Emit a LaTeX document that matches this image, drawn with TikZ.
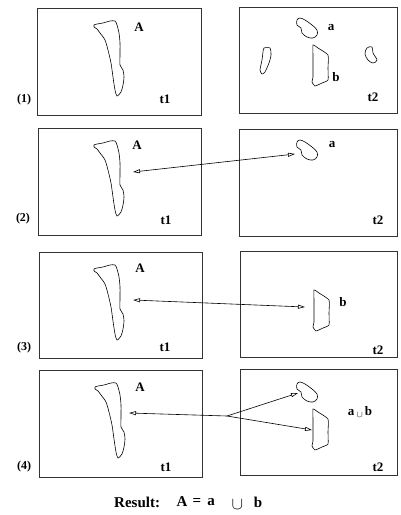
\documentclass[tikz,border=0pt]{standalone}
\usepackage{fontspec}
\setmainfont{Liberation Serif}
\usetikzlibrary{arrows.meta}
\newcommand\shapeAA{plot[smooth cycle, tension=0.45] coordinates{(94,25) (97,24) (103,23) (110,21) (115,21) (117,25) (119,33) (120,43) (120,55) (120,65) (123,70) (124,77) (123,85) (121,92) (117,96) (115,90) (113,77) (111,63) (108,50) (105,40) (100,33) (97,29) (94,27)}}
\newcommand\shapeSa{plot[smooth cycle, tension=0.6] coordinates{(297,20) (300,18) (305,20) (312,25) (317,30) (317,35) (313,38) (307,37) (302,33) (301,28) (297,25)}}
\newcommand\shapeSb{plot[smooth cycle, tension=0.3] coordinates{(313,45) (318,48) (328,55) (328,68) (328,80) (322,83) (315,86) (312,82) (313,77) (313,67) (313,55)}}
\newcommand\shapeSl{plot[smooth cycle, tension=0.4] coordinates{(264,48) (270,48) (271,55) (269,63) (265,72) (262,74) (260,70) (262,60) (263,52)}}
\newcommand\shapeSr{plot[smooth cycle, tension=0.6] coordinates{(367,48) (372,47) (373,53) (377,60) (373,63) (368,60) (365,54)}}
\begin{document}
\begin{tikzpicture}[x=1pt,y=-1pt,
  frame/.style={draw=black!80, line width=0.8pt},
  blob/.style={draw, line width=0.6pt},
  lbl/.style={font=\fontsize{13}{13}\selectfont\bfseries, inner sep=0pt},
  rowlbl/.style={font=\fontsize{12}{12}\selectfont\bfseries, inner sep=0pt},
  res/.style={font=\fontsize{15}{15}\selectfont\bfseries, inner sep=0pt},
  link/.style={line width=0.6pt, {Triangle[open,length=7pt,width=4pt]}-{Triangle[open,length=7pt,width=4pt]}},
  onelink/.style={line width=0.6pt, -{Triangle[open,length=7pt,width=4pt]}}]
\useasboundingbox (0,0) rectangle (400,515);
% row 1
\draw[frame] (37,8) rectangle (201,115);
\draw[frame] (239,7) rectangle (397,113);
\draw[blob] \shapeAA;
\draw[blob] \shapeSa;
\draw[blob] \shapeSb;
\draw[blob] \shapeSl;
\draw[blob] \shapeSr;
\node[lbl] (A1) at (139,27) {A};
\node[lbl] (t11) at (165,99) {t1};
\node[lbl] (a1) at (331,28) {a};
\node[lbl] (b1) at (336,77) {b};
\node[lbl] (t21) at (373,97) {t2};
\node[rowlbl] (r1) at (24,100) {(1)};
% row 2
\draw[frame] (38,128) rectangle (201,235);
\draw[frame] (239,129) rectangle (397,236);
\draw[blob, shift={(0,120)}] \shapeAA;
\draw[blob, shift={(0,122)}] \shapeSa;
\node[lbl] (A2) at (137,145) {A};
\node[lbl] (t12) at (166,220) {t1};
\node[lbl] (a2) at (332,145) {a};
\node[lbl] (t22) at (378,220) {t2};
\node[rowlbl] (r2) at (23,219) {(2)};
\coordinate (p2A) at (133,172);
\coordinate (p2a) at (295,154);
\draw[link] (p2A) -- (p2a);
% row 3
\draw[frame] (39,252) rectangle (202,358);
\draw[frame] (240,251) rectangle (397,357);
\draw[blob, shift={(0,244)}] \shapeAA;
\draw[blob, shift={(1,245)}] \shapeSb;
\node[lbl] (A3) at (140,268) {A};
\node[lbl] (t13) at (165,347) {t1};
\node[lbl] (b3) at (343,302) {b};
\node[lbl] (t23) at (378,350) {t2};
\node[rowlbl] (r3) at (24,348) {(3)};
\coordinate (p3A) at (133,300);
\coordinate (p3b) at (305,307);
\draw[link] (p3A) -- (p3b);
% row 4
\draw[frame] (39,370) rectangle (202,477);
\draw[frame] (240,369) rectangle (397,475);
\draw[blob, shift={(1,362)}] \shapeAA;
\draw[blob, shift={(0,364)}] \shapeSa;
\draw[blob, shift={(0,364)}] \shapeSb;
\node[lbl] (A4) at (140,387) {A};
\node[lbl] (t14) at (166,467) {t1};
\node[lbl] (ab4) at (360,412) {a\,{\fontsize{9}{9}\selectfont\raisebox{-1.5pt}{$\cup$}}\,b};
\node[lbl] (t24) at (378,467) {t2};
\node[rowlbl] (r4) at (24,467) {(4)};
\coordinate (p4A) at (129,413);
\coordinate (p4j) at (227,416);
\coordinate (p4a) at (298,393);
\coordinate (p4b) at (312,430);
\draw[onelink] (p4j) -- (p4A);
\draw[onelink] (p4j) -- (p4a);
\draw[onelink] (p4j) -- (p4b);
% result
\node[res, anchor=west] (resl) at (114,502) {Result:};
\node[res] (resA) at (182,502) {A};
\node[res] (reseq) at (197,502) {=};
\node[res] (resa) at (211,502) {a};
\node[res] (rescup) at (237.5,505) {\fontsize{17}{17}\selectfont$\cup$};
\node[res] (resb) at (258,502) {b};
\end{tikzpicture}
\end{document}
